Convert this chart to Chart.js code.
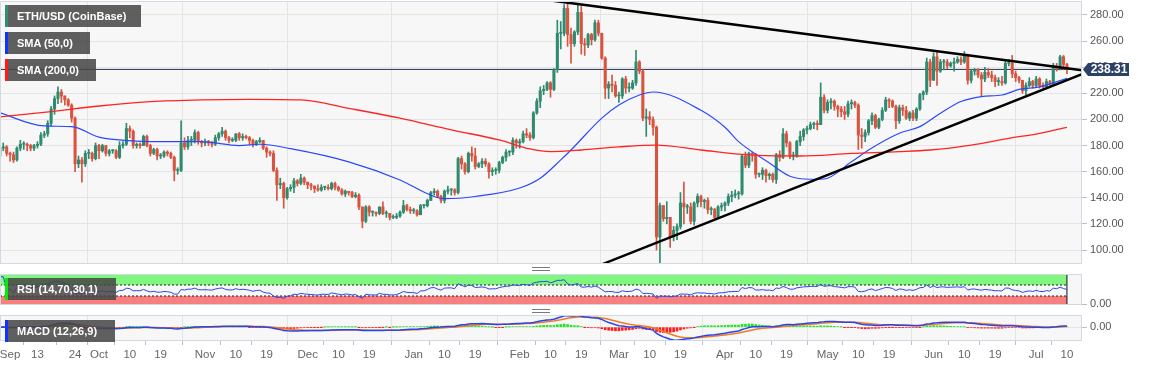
<!DOCTYPE html>
<html>
<head>
<meta charset="utf-8">
<script src="https://cdn.jsdelivr.net/npm/chart.js@4.4.0/dist/chart.umd.min.js"></script>
<style>
  html, body { margin: 0; padding: 0; background: #fff; }
  #wrap { position: relative; width: 1153px; height: 367px; overflow: hidden; font-family: "Liberation Sans", Arial, sans-serif; }
  canvas { position: absolute; left: 0; }
  .tag { position: absolute; left: 5px; height: 22px; line-height: 22px; box-sizing: border-box; padding-left: 9px;
         background: rgba(70, 70, 70, 0.86); color: #fff; font-weight: bold; font-size: 11px; border-left: 3px solid; white-space: nowrap; z-index: 5; }
  .grip { position: absolute; left: 532px; width: 18px; height: 2px; border-top: 1px solid #7a7a7a; border-bottom: 1px solid #7a7a7a; z-index: 5; }
</style>
</head>
<body>
<div id="wrap">
  <canvas id="mainChart" width="1153" height="265" style="top:0"></canvas>
  <canvas id="rsiChart" width="1153" height="45" style="top:270px"></canvas>
  <canvas id="macdChart" width="1153" height="55" style="top:312px"></canvas>

  <div class="tag" style="top:5px;width:136px;border-color:#2f8f72">ETH/USD (CoinBase)</div>
  <div class="tag" style="top:32px;width:85px;border-color:#1133ff">SMA (50,0)</div>
  <div class="tag" style="top:59px;width:91px;border-color:#ff1a1a">SMA (200,0)</div>
  <div class="tag" style="top:278px;width:111px;border-color:#00ee00">RSI (14,70,30,1)</div>
  <div class="tag" style="top:320px;width:110px;border-color:#1133ff">MACD (12,26,9)</div>
  <div class="grip" style="top:267px"></div>
  <div class="grip" style="top:309px"></div>
</div>

<script>
// ETH/USD daily candles, Sep 2 2019 .. Jul 10 2020 (day 0 = Sep 1 2019)
const FIRST_DAY = 1;
const FIRST_OPEN = 172;

const SEP_CLOSE = [178,179,174,173,169,178,181,181,180,178,180,181,188,189,197,208,216,221,218,215,211,201,166,169,166,174,174,170,180];
const SEP_HIGH  = [179,182,180,175,175,179,184,183,182,181,181,183,190,191,199,210,218,225,223,218,216,212,202,172,171,176,177,175,182];
const SEP_LOW   = [170,176,172,168,167,168,176,177,176,176,176,178,180,186,187,195,204,212,213,211,210,198,160,163,152,164,170,168,169];

const OCT_CLOSE = [176,180,174,176,176,171,180,181,193,191,180,181,180,187,180,174,177,172,172,175,174,171,161,161,182,179,184,184,190,183,182];
const OCT_HIGH  = [181,181,180,177,177,177,183,183,197,195,192,182,182,188,188,181,178,178,174,176,176,175,172,163,199,186,187,187,192,191,184];
const OCT_LOW   = [170,175,172,172,174,170,170,178,180,186,178,178,178,180,179,172,173,169,170,171,172,170,153,158,160,177,177,180,182,181,179];

const NOV_CLOSE = [183,182,181,186,189,191,186,184,184,189,186,187,186,184,181,183,184,178,175,174,161,150,151,140,147,148,153,151,155,152];
const NOV_HIGH  = [185,184,183,188,190,194,192,187,186,189,190,189,188,187,185,184,186,184,179,176,176,163,155,152,148,150,155,154,158,156];
const NOV_LOW   = [180,180,179,180,184,187,184,182,183,183,184,184,185,181,179,180,182,177,171,172,160,138,147,132,139,145,144,149,150,150];

const DEC_CLOSE = [150,149,147,146,148,148,147,151,148,146,143,145,144,141,142,133,122,133,129,129,128,133,128,128,125,125,126,129,134,131,130];
const DEC_HIGH  = [152,151,149,150,150,149,150,152,152,149,147,146,145,145,144,143,133,134,134,130,129,133,137,130,128,127,128,130,138,135,133];
const DEC_LOW   = [147,146,144,145,145,146,146,146,146,145,142,141,142,140,140,131,117,121,126,126,126,127,127,125,123,124,124,125,128,130,128];

const JAN_CLOSE = [130,127,134,134,138,144,145,141,138,145,146,146,144,170,166,160,174,172,164,166,168,166,160,161,161,167,171,175,175,184,182];
const JAN_HIGH  = [132,131,135,135,139,145,147,146,142,146,149,147,147,171,172,167,175,179,178,167,170,170,167,163,163,168,172,177,176,186,185];
const JAN_LOW   = [128,126,127,132,133,138,142,140,136,136,143,142,142,143,162,158,159,168,162,163,163,164,155,157,158,159,166,168,172,173,178];

const FEB_CLOSE = [183,189,188,186,205,214,222,223,228,223,238,266,266,285,265,258,267,282,258,257,265,261,274,266,247,224,227,226,218];
const FEB_HIGH  = [185,191,193,190,206,216,225,226,229,229,239,276,275,288,290,270,268,288,287,262,266,266,276,276,266,248,229,234,229];
const FEB_LOW   = [178,182,186,184,185,204,209,219,222,217,222,236,254,264,256,243,256,265,250,249,255,257,260,264,246,216,216,221,217];

const MAR_CLOSE = [218,231,224,224,228,244,237,201,202,200,194,110,134,124,125,110,115,118,136,133,133,122,136,141,137,138,131,131,125,133,134];
const MAR_HIGH  = [221,232,233,228,230,253,245,238,208,206,202,195,136,134,137,125,118,120,144,152,135,136,137,143,142,139,140,133,132,134,136];
const MAR_LOW   = [213,216,220,221,223,226,235,199,187,196,188,100,90,122,120,102,107,108,116,120,128,120,119,133,133,132,128,127,124,124,130];

const APR_CLOSE = [136,141,142,143,143,172,165,174,173,158,158,161,157,158,154,173,171,189,182,172,172,183,187,192,193,196,197,196,217,207];
const APR_HIGH  = [137,143,145,146,145,173,175,175,175,174,159,163,162,159,159,174,176,193,191,183,175,184,191,193,195,198,198,199,228,219];
const APR_LOW   = [130,134,137,140,139,142,163,163,168,155,156,154,152,154,152,151,168,170,179,170,169,171,180,184,189,192,193,192,196,205];

const MAY_CLOSE = [213,214,210,208,206,204,212,213,211,188,187,190,199,203,194,200,207,215,214,210,199,209,207,201,205,201,208,219,221,244,230];
const MAY_HIGH  = [215,216,215,211,210,210,214,215,214,212,193,192,200,205,204,201,209,217,216,215,211,211,211,210,206,207,209,220,222,247,246];
const MAY_LOW   = [205,208,207,202,202,200,202,208,209,177,178,183,188,196,193,193,199,206,209,209,193,197,203,200,199,199,199,207,215,219,225];

const JUN_CLOSE = [248,237,244,244,241,243,244,246,244,249,230,237,238,234,231,236,234,232,229,229,228,243,243,235,232,230,222,226,229,226];
const JUN_HIGH  = [251,253,246,246,246,244,247,248,248,252,250,238,239,239,236,240,239,237,234,232,233,245,246,249,237,233,230,228,232,230];
const JUN_LOW   = [230,226,236,238,239,240,237,243,242,243,227,228,234,232,218,229,232,229,225,226,226,227,241,232,229,228,220,219,225,224];

const JUL_CLOSE = [231,226,225,229,227,241,239,248,242,238.31];
const JUL_HIGH  = [233,232,228,231,230,243,243,249,249,243];
const JUL_LOW   = [225,224,223,224,226,226,237,238,238,235];

// moving averages (day, value)
const SMA50_DAYS = [1,14,22,30,36,45,60,71,77,86,103,118,127,131,140,153,159,165,168,177,182,188,192,206,213,217,226,232,238,242,250,255,264,270,276,282,288,294,299,305,313];
const SMA50 = [205,195,194.5,186.5,184.3,183,183,180,181,177.6,167.5,153.6,142,139.3,141,147.5,155,169,176.6,201,211,218.7,221,207,194,183,166.6,156.5,154.2,154.4,167.6,176.6,189.4,194.5,204.7,213.7,217.5,218.7,223,225,231.5];
const SMA200_DAYS = [1,16,30,45,60,74,89,103,118,133,147,156,162,171,182,193,206,220,235,250,264,273,285,296,305,313];
const SMA200 = [202,206,210.3,213.6,215,215.4,215,208.5,201,192,184.3,177.4,175.4,176.6,179,180.4,176.6,172.8,172,174,175.3,176.6,180.4,185.5,189.4,194];

// triangle trend lines (day, price at the two ends)
const UPPER_DAYS = [161, 317.4];
const UPPER_PRICE = [291.5, 237.6];
const LOWER_DAYS = [176.5, 317.4];
const LOWER_PRICE = [88.5, 234.7];

// axes
const PRICE_TICKS = [100,120,140,160,180,200,220,240,260,280];
const TICK_DAYS = [4,12,23,30,39,48,61,70,79,91,100,109,122,131,140,153,162,171,182,191,200,213,222,231,243,252,261,274,283,292,304,313];
const TICK_LABELS = ['Sep','13','24','Oct','10','19','Nov','10','19','Dec','10','19','Jan','10','19','Feb','10','19','Mar','10','19','Apr','10','19','May','10','19','Jun','10','19','Jul','10'];
const MONTH_DAYS = [30,61,91,122,153,182,213,243,274,304];

const X_MIN = 1.05;
const X_MAX = 317.4;
const GREEN = '#2f8a6f';
const RED = '#d9533f';
const GRID = '#e4e4e4';
const FRAME = '#d3d9e4';

Chart.defaults.font.family = '"Liberation Sans", Arial, sans-serif';
Chart.defaults.animation = false;

const closes = [].concat(SEP_CLOSE, OCT_CLOSE, NOV_CLOSE, DEC_CLOSE, JAN_CLOSE, FEB_CLOSE, MAR_CLOSE, APR_CLOSE, MAY_CLOSE, JUN_CLOSE, JUL_CLOSE);
const highs = [].concat(SEP_HIGH, OCT_HIGH, NOV_HIGH, DEC_HIGH, JAN_HIGH, FEB_HIGH, MAR_HIGH, APR_HIGH, MAY_HIGH, JUN_HIGH, JUL_HIGH);
const lows = [].concat(SEP_LOW, OCT_LOW, NOV_LOW, DEC_LOW, JAN_LOW, FEB_LOW, MAR_LOW, APR_LOW, MAY_LOW, JUN_LOW, JUL_LOW);
const days = closes.map((c, i) => FIRST_DAY + i);
const opens = closes.map((c, i) => i ? closes[i - 1] : FIRST_OPEN);
const isUp = closes.map((c, i) => c >= opens[i]);
const LAST_PRICE = closes[closes.length - 1];
const LAST_DAY = days[days.length - 1];

// indicators
function ema(vals, n) {
  const a = 2 / (n + 1);
  let e = vals[0];
  return vals.map(v => (e = e + a * (v - e)));
}

function calcRsi(prev, vals, n) {
  let ag = 0, al = 0, last = prev;
  return vals.map((c, i) => {
    const d = c - last;
    last = c;
    const k = Math.min(i + 1, n);
    ag = (ag * (k - 1) + Math.max(d, 0)) / k;
    al = (al * (k - 1) + Math.max(-d, 0)) / k;
    return al === 0 ? 100 : 100 - 100 / (1 + ag / al);
  });
}

const rsi = calcRsi(FIRST_OPEN, closes, 14);
const ema12 = ema(closes, 12);
const ema26 = ema(closes, 26);
const macd = ema12.map((v, i) => v - ema26[i]);
const signal = ema(macd, 9);
const hist = macd.map((v, i) => v - signal[i]);

const pts = (xs, ys) => xs.map((x, i) => ({ x: x, y: ys[i] }));

// background + frame of each panel
const framePlugin = {
  id: 'frame',
  beforeDraw(chart) {
    const { ctx, chartArea: a } = chart;
    ctx.save();
    ctx.fillStyle = '#f7f7f7';
    ctx.fillRect(a.left, a.top, a.width, a.height);
    ctx.restore();
  },
  afterDraw(chart) {
    const { ctx, chartArea: a } = chart;
    ctx.save();
    ctx.strokeStyle = FRAME;
    ctx.lineWidth = 1;
    ctx.strokeRect(a.left + 0.5, a.top + 0.5, a.width - 1, a.height - 1);
    ctx.restore();
  }
};

// last price label on the price axis
const priceTag = {
  id: 'priceTag',
  afterDraw(chart) {
    const { ctx, chartArea: a, scales } = chart;
    const py = scales.y.getPixelForValue(LAST_PRICE);
    const x0 = a.right + 1;
    ctx.save();
    ctx.fillStyle = '#2b4166';
    ctx.beginPath();
    ctx.moveTo(x0, py);
    ctx.lineTo(x0 + 5, py - 6.5);
    ctx.lineTo(x0 + 46, py - 6.5);
    ctx.lineTo(x0 + 46, py + 6.5);
    ctx.lineTo(x0 + 5, py + 6.5);
    ctx.closePath();
    ctx.fill();
    ctx.fillStyle = '#fff';
    ctx.font = 'bold 12px "Liberation Sans", Arial, sans-serif';
    ctx.textAlign = 'center';
    ctx.textBaseline = 'middle';
    ctx.fillText(LAST_PRICE.toFixed(2), x0 + 26, py + 0.5);
    ctx.restore();
  }
};

function xAxis(withLabels) {
  return {
    type: 'linear',
    min: X_MIN,
    max: X_MAX,
    offset: false,
    afterBuildTicks: s => { s.ticks = TICK_DAYS.map(v => ({ value: v })); },
    ticks: {
      display: withLabels,
      autoSkip: false,
      maxRotation: 0,
      color: '#666',
      font: { size: 11.5 },
      padding: 3,
      callback: (v, i) => TICK_LABELS[i]
    },
    grid: {
      color: c => (c.tick && MONTH_DAYS.includes(c.tick.value)) ? GRID : 'rgba(0,0,0,0)',
      tickColor: c => c.index === 0 ? 'rgba(0,0,0,0)' : '#b9c0cc',
      drawTicks: withLabels,
      tickLength: 4
    },
    border: { display: false },
    afterFit: s => { s.height = withLabels ? 26 : 0; s.paddingLeft = 0; s.paddingRight = 0; }
  };
}

function yAxis(min, max, tickVals, gridColor) {
  return {
    position: 'right',
    min: min,
    max: max,
    afterBuildTicks: s => { s.ticks = tickVals.map(v => ({ value: v })); },
    ticks: { color: '#555', font: { size: 11 }, padding: 3, callback: v => Number(v).toFixed(2) },
    grid: { color: gridColor, tickColor: '#b9c0cc', tickLength: 5 },
    border: { display: false },
    afterFit: s => { s.width = 71; s.paddingTop = 0; s.paddingBottom = 0; }
  };
}

const noPlugins = { legend: { display: false }, tooltip: { enabled: false } };

// price panel
new Chart(document.getElementById('mainChart'), {
  type: 'bar',
  data: {
    datasets: [
      {
        type: 'line', order: 9,
        data: pts([X_MIN, X_MAX], [LAST_PRICE, LAST_PRICE]),
        borderColor: '#1f3352', borderWidth: 1, pointRadius: 0
      },
      {
        order: 4, grouped: false, barThickness: 1,
        data: days.map((d, i) => ({ x: d, y: [Math.min(lows[i], opens[i], closes[i]), Math.max(highs[i], opens[i], closes[i])] })),
        backgroundColor: isUp.map(u => u ? GREEN : RED)
      },
      {
        order: 3, grouped: false, barThickness: 2.4, minBarLength: 1,
        data: days.map((d, i) => ({ x: d, y: [opens[i], closes[i]] })),
        backgroundColor: isUp.map(u => u ? GREEN : RED)
      },
      {
        type: 'line', order: 2,
        data: pts(SMA200_DAYS, SMA200),
        borderColor: '#ff2323', borderWidth: 1.3, pointRadius: 0, cubicInterpolationMode: 'monotone'
      },
      {
        type: 'line', order: 2,
        data: pts(SMA50_DAYS, SMA50),
        borderColor: '#2a48ff', borderWidth: 1.2, pointRadius: 0, cubicInterpolationMode: 'monotone'
      },
      {
        type: 'line', order: 1,
        data: pts(UPPER_DAYS, UPPER_PRICE),
        borderColor: '#000', borderWidth: 2.5, pointRadius: 0
      },
      {
        type: 'line', order: 1,
        data: pts(LOWER_DAYS, LOWER_PRICE),
        borderColor: '#000', borderWidth: 2.5, pointRadius: 0
      }
    ]
  },
  options: {
    responsive: false,
    devicePixelRatio: 1,
    layout: { padding: { top: 1, bottom: 1, left: 0, right: 0 } },
    plugins: noPlugins,
    scales: {
      x: xAxis(false),
      y: yAxis(89.3, 290.7, PRICE_TICKS, GRID)
    }
  },
  plugins: [framePlugin, priceTag]
});

// RSI panel
const RSI_MIN = -2.7, RSI_MAX = 110;
new Chart(document.getElementById('rsiChart'), {
  type: 'line',
  data: {
    datasets: [
      { order: 6, data: pts([X_MIN, LAST_DAY], [RSI_MAX, RSI_MAX]), fill: { value: 70 }, backgroundColor: '#7ff77f', borderWidth: 0, pointRadius: 0 },
      { order: 6, data: pts([X_MIN, LAST_DAY], [RSI_MIN, RSI_MIN]), fill: { value: 30 }, backgroundColor: '#f87f7f', borderWidth: 0, pointRadius: 0 },
      { order: 5, data: pts([X_MIN, LAST_DAY], [70, 70]), borderColor: '#222', borderWidth: 1, borderDash: [2, 2], pointRadius: 0 },
      { order: 5, data: pts([X_MIN, LAST_DAY], [30, 30]), borderColor: '#222', borderWidth: 1, borderDash: [2, 2], pointRadius: 0 },
      { order: 5, data: pts([LAST_DAY, LAST_DAY], [RSI_MIN, RSI_MAX]), borderColor: '#111', borderWidth: 1, pointRadius: 0 },
      { order: 1, data: pts(days, rsi), borderColor: '#2b46ee', borderWidth: 1, pointRadius: 0 }
    ]
  },
  options: {
    responsive: false,
    devicePixelRatio: 1,
    layout: { padding: { top: 4, bottom: 10, left: 0, right: 0 } },
    plugins: noPlugins,
    scales: {
      x: xAxis(false),
      y: yAxis(RSI_MIN, RSI_MAX, [0], 'rgba(0,0,0,0)')
    }
  },
  plugins: [framePlugin]
});

// MACD panel
const macdLow = Math.min(...macd, ...signal);
const macdHigh = Math.max(...macd, ...signal);
const MACD_MIN = macdLow * 1.06;
const MACD_MAX = Math.max(macdHigh * 1.05, -MACD_MIN * 12 / 14);
new Chart(document.getElementById('macdChart'), {
  type: 'bar',
  data: {
    datasets: [
      {
        order: 3, grouped: false, barThickness: 2,
        data: pts(days, hist),
        backgroundColor: hist.map(h => h >= 0 ? '#1ee61e' : '#ff1c1c')
      },
      { type: 'line', order: 2, data: pts(days, signal), borderColor: '#f27a22', borderWidth: 1.5, pointRadius: 0 },
      { type: 'line', order: 1, data: pts(days, macd), borderColor: '#2746ee', borderWidth: 1.5, pointRadius: 0 }
    ]
  },
  options: {
    responsive: false,
    devicePixelRatio: 1,
    layout: { padding: { top: 3, bottom: 0, left: 0, right: 0 } },
    plugins: noPlugins,
    scales: {
      x: xAxis(true),
      y: yAxis(MACD_MIN, MACD_MAX, [0], GRID)
    }
  },
  plugins: [framePlugin]
});
</script>
</body>
</html>
